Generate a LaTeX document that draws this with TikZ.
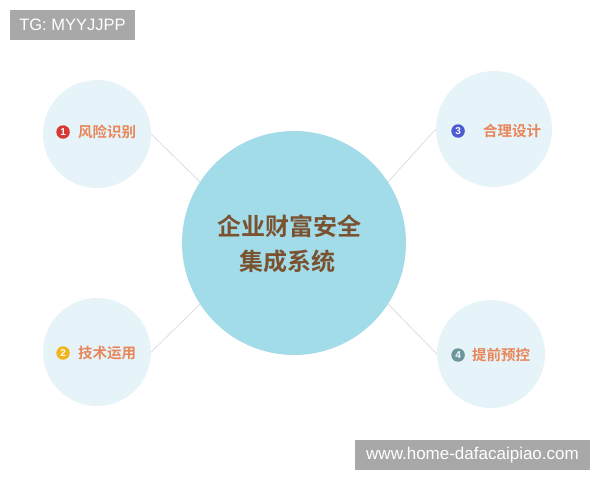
\documentclass[tikz,border=0pt]{standalone}
\usepackage{fontspec}
\setmainfont{Liberation Sans}
\newfontfamily\cjk{Noto Sans CJK SC}[BoldFont={Noto Sans CJK SC Bold}]
\usetikzlibrary{positioning}

\definecolor{hubblue}{HTML}{A3DCE9}
\definecolor{leafblue}{HTML}{E6F3F8}
\definecolor{hubtext}{HTML}{7A5230}
\definecolor{leaftext}{HTML}{E8865A}
\definecolor{tagbox}{HTML}{A8A8A8}
\definecolor{linkgray}{HTML}{DEDEDE}
\definecolor{numred}{HTML}{D73A36}
\definecolor{numyellow}{HTML}{F3B51E}
\definecolor{numblue}{HTML}{4C5AD4}
\definecolor{numteal}{HTML}{6A969C}

\begin{document}
\begin{tikzpicture}[x=1pt,y=-1pt,
    hub/.style={circle,fill=hubblue,minimum size=224pt,inner sep=0pt},
    hubtitle/.style={text=hubtext,align=center,inner sep=0pt,
        font=\cjk\bfseries\fontsize{24}{35}\selectfont},
    leaf/.style={circle,fill=leafblue,minimum size=108pt,inner sep=0pt},
    leaflabel/.style={text=leaftext,inner sep=0pt,font=\cjk\bfseries\fontsize{14.5}{16}\selectfont},
    badge/.style={circle,inner sep=0pt,minimum size=13.5pt,text=white,
        font=\bfseries\fontsize{10}{10}\selectfont},
    tag/.style={fill=tagbox,text=white,inner sep=0pt},
    link/.style={draw=linkgray,line width=0.8pt}]
\useasboundingbox (0,0) rectangle (600,480);

\node[hub] (sys) at (294,243) {};
\node[hubtitle] (systitle) at (289,244) {企业财富安全\\\hspace*{-4pt}集成系统};

\node[leaf] (risk) at (97,134) {};
\node[leaf,minimum size=116pt] (design) at (494,129) {};
\node[leaf] (tech) at (97,352) {};
\node[leaf] (ctrl) at (491,354) {};

\draw[link] (risk.east) -- (sys.147);
\draw[link] (design.west) -- (sys.33);
\draw[link] (tech.east) -- (sys.213);
\draw[link] (ctrl.west) -- (sys.-33);

\node[leaflabel,anchor=west] (risklbl) at (78,132) {风险识别};
\node[badge,fill=numred,left=8pt of risklbl] (n1) {1};
\node[leaflabel,anchor=west] (techlbl) at (78,353) {技术运用};
\node[badge,fill=numyellow,left=8pt of techlbl] (n2) {2};
\node[leaflabel,anchor=west] (designlbl) at (483,131) {合理设计};
\node[badge,fill=numblue,left=18pt of designlbl] (n3) {3};
\node[leaflabel,anchor=west] (ctrllbl) at (472,355) {提前预控};
\node[badge,fill=numteal,left=7pt of ctrllbl] (n4) {4};

\node[tag,minimum width=125pt,minimum height=30pt,
    font=\fontsize{16.5}{17}\selectfont] (tg) at (72.5,25) {TG: MYYJJPP};
\node[tag,minimum width=235pt,minimum height=30pt,
    font=\fontsize{17}{18}\selectfont] (site) at (472.5,455) {www.home-dafacaipiao.com};

\end{tikzpicture}
\end{document}
